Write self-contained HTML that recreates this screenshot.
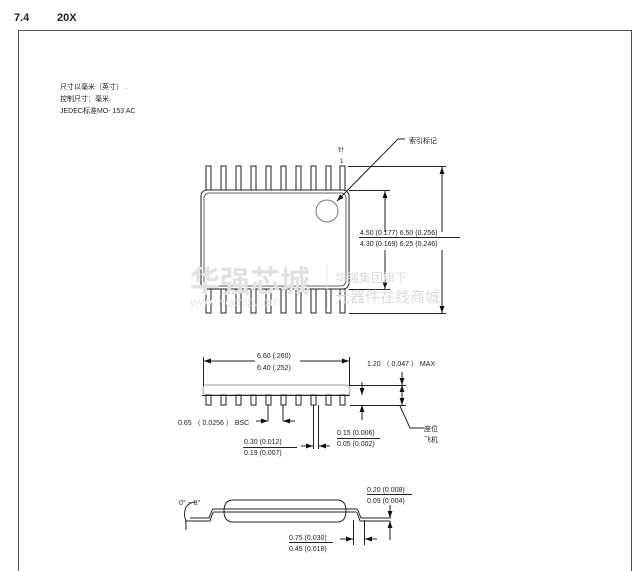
<!DOCTYPE html>
<html><head><meta charset="utf-8"><style>
html,body{margin:0;padding:0;background:#fff;width:636px;height:571px;overflow:hidden}
svg{display:block}
text{font-family:"Liberation Sans","Noto Sans CJK SC",sans-serif;fill:#222}
</style></head><body>
<svg width="636" height="571" viewBox="0 0 636 571" xmlns="http://www.w3.org/2000/svg">
<defs>
<marker id="a" viewBox="0 0 10 10" refX="10" refY="5" markerWidth="7" markerHeight="7" orient="auto-start-reverse"><path d="M0,1.5 L10,5 L0,8.5z" fill="#111"/></marker>
</defs>
<text x="14" y="21" font-size="11" font-weight="bold">7.4</text>
<text x="57" y="21" font-size="11" font-weight="bold">20X</text>
<path d="M18.5,571 V30.5 H631.5 V571" fill="none" stroke="#555" stroke-width="1"/>
<text x="60" y="89" font-size="7">尺寸以毫米（英寸） .</text>
<text x="60" y="101" font-size="7">控制尺寸：毫米.</text>
<text x="60" y="113" font-size="7">JEDEC标准MO- 153 AC</text>
<g stroke="#222" stroke-width="1" fill="none">
<g fill="#fff">
<rect x="206" y="166" width="5" height="24"/><rect x="221" y="166" width="5" height="24"/><rect x="236" y="166" width="5" height="24"/><rect x="251" y="166" width="5" height="24"/><rect x="266" y="166" width="5" height="24"/><rect x="281" y="166" width="5" height="24"/><rect x="296" y="166" width="5" height="24"/><rect x="311" y="166" width="5" height="24"/><rect x="326" y="166" width="5" height="24"/><rect x="340" y="166" width="5" height="24"/>
<rect x="206" y="289" width="5" height="24"/><rect x="221" y="289" width="5" height="24"/><rect x="236" y="289" width="5" height="24"/><rect x="251" y="289" width="5" height="24"/><rect x="266" y="289" width="5" height="24"/><rect x="281" y="289" width="5" height="24"/><rect x="296" y="289" width="5" height="24"/><rect x="311" y="289" width="5" height="24"/><rect x="326" y="289" width="5" height="24"/><rect x="340" y="289" width="5" height="24"/>
</g>
<rect x="201" y="190" width="148" height="99" rx="6" fill="#fff"/>
<rect x="204" y="193" width="142" height="93" rx="5" stroke="#666"/>
<circle cx="327" cy="211" r="11" stroke="#777"/>
<line x1="348" y1="166.5" x2="446" y2="166.5"/>
<line x1="349" y1="190.5" x2="390" y2="190.5"/>
<line x1="349" y1="289.5" x2="390" y2="289.5"/>
<line x1="349" y1="313.5" x2="446" y2="313.5"/>
<line x1="385" y1="191" x2="385" y2="232" marker-start="url(#a)"/>
<line x1="385" y1="250" x2="385" y2="289" marker-end="url(#a)"/>
<line x1="442" y1="167" x2="442" y2="232" marker-start="url(#a)"/>
<line x1="442" y1="250" x2="442" y2="313" marker-end="url(#a)"/>
<line x1="359" y1="237.5" x2="460" y2="237.5"/>
<path d="M405,139 H398 L337,201" marker-end="url(#a)"/>
<line x1="203.5" y1="357" x2="203.5" y2="386"/>
<line x1="349.5" y1="357" x2="349.5" y2="386"/>
<line x1="204" y1="361" x2="255" y2="361" marker-start="url(#a)"/>
<line x1="300" y1="361" x2="349" y2="361" marker-end="url(#a)"/>
<path d="M206,385 H346 Q350,385 350,390 Q350,395 346,395 H206 Q203,395 203,390 Q203,385 206,385z" stroke="#999"/>
<g fill="#fff">
<rect x="206" y="395" width="5" height="10"/><rect x="221" y="395" width="5" height="10"/><rect x="236" y="395" width="5" height="10"/><rect x="251" y="395" width="5" height="10"/><rect x="266" y="395" width="5" height="10"/><rect x="281" y="395" width="5" height="10"/><rect x="296" y="395" width="5" height="10"/><rect x="311" y="395" width="5" height="10"/><rect x="326" y="395" width="5" height="10"/><rect x="340" y="395" width="5" height="10"/>
</g>
<line x1="202" y1="395.5" x2="350" y2="395.5"/>
<line x1="350" y1="385.5" x2="406" y2="385.5"/>
<line x1="350" y1="405.5" x2="406" y2="405.5"/>
<line x1="402" y1="372" x2="402" y2="385" marker-end="url(#a)"/>
<line x1="402" y1="395" x2="402" y2="385" marker-end="url(#a)"/>
<line x1="402" y1="395" x2="402" y2="405" marker-end="url(#a)"/>
<line x1="362" y1="382" x2="362" y2="395" marker-end="url(#a)"/>
<line x1="362" y1="420" x2="362" y2="405" marker-end="url(#a)"/>
<path d="M400,406 L410,428 H424" />
<line x1="268" y1="405" x2="268" y2="421"/>
<line x1="283" y1="405" x2="283" y2="421"/>
<line x1="256" y1="421" x2="268" y2="421" marker-end="url(#a)"/>
<line x1="295" y1="421" x2="283" y2="421" marker-end="url(#a)"/>
<line x1="313.5" y1="405" x2="313.5" y2="449"/>
<line x1="318.5" y1="405" x2="318.5" y2="449"/>
<line x1="301" y1="446" x2="313" y2="446" marker-end="url(#a)"/>
<line x1="330" y1="446" x2="319" y2="446" marker-end="url(#a)"/>
<line x1="243" y1="447.5" x2="297" y2="447.5"/>
<line x1="337" y1="438.5" x2="380" y2="438.5"/>
<path d="M233,500 H337 Q346,500 346,511 Q346,522 337,522 H233 Q224,522 224,511 Q224,500 233,500z" fill="#fff"/>
<line x1="214" y1="509" x2="356" y2="509"/>
<line x1="214" y1="512" x2="356" y2="512"/>
<path d="M214,509 Q212,509 211,513 L209,518 H190"/>
<path d="M214,512 Q213,512 212,515 L210,521 H185"/>
<path d="M356,509 Q358,509 359,513 L361,518 H391"/>
<path d="M356,512 Q357,512 358,515 L360,521 H390"/>
<line x1="353.5" y1="520" x2="353.5" y2="545"/>
<line x1="364.5" y1="520" x2="364.5" y2="545"/>
<line x1="340" y1="539" x2="353" y2="539" marker-end="url(#a)"/>
<line x1="377" y1="539" x2="365" y2="539" marker-end="url(#a)"/>
<line x1="390" y1="505" x2="390" y2="518" marker-end="url(#a)"/>
<line x1="390" y1="540" x2="390" y2="521" marker-end="url(#a)"/>
<path d="M186,507 Q183,514 186,521" />
<path d="M186,507 Q190,502 195,502" />
<line x1="186" y1="530" x2="186" y2="521"/>
<line x1="367" y1="494.5" x2="412" y2="494.5"/>
<line x1="289" y1="542.5" x2="333" y2="542.5"/>
</g>
<!-- watermark on top -->
<text x="190" y="292" font-size="30" font-weight="bold" style="fill:#e2e2e2">华强芯城</text>
<text x="190" y="306" font-size="12" style="fill:#e6e6e6">www.hqchip.com</text>
<line x1="327" y1="265" x2="327" y2="310" stroke="#e6e6e6"/>
<text x="335" y="282" font-size="12" style="fill:#dcdcdc">华强集团旗下</text>
<text x="335" y="302" font-size="15" style="fill:#dcdcdc">元器件在线商城</text>
<text x="338" y="152" font-size="6">针</text>
<text x="340" y="163" font-size="6">1</text>
<text x="409" y="143" font-size="7">索引标记</text>
<text x="360" y="235" font-size="7">4.50 (0.177) 6.50 (0.256)</text>
<text x="360" y="246" font-size="7">4.30 (0.169) 6.25 (0.246)</text>
<text x="257" y="358" font-size="7">6.60 (.260)</text>
<text x="257" y="370" font-size="7">6.40 (.252)</text>
<text x="367" y="366" font-size="7">1.20 （ 0.047 ） MAX</text>
<text x="178" y="425" font-size="7">0.65 （ 0.0256 ） BSC</text>
<text x="244" y="444" font-size="7">0.30 (0.012)</text>
<text x="244" y="455" font-size="7">0.19 (0.007)</text>
<text x="337" y="435" font-size="7">0.15 (0.006)</text>
<text x="337" y="446" font-size="7">0.05 (0.002)</text>
<text x="424" y="431" font-size="7">座位</text>
<text x="424" y="442" font-size="7">飞机</text>
<text x="179" y="505" font-size="7">0° ~ 8°</text>
<text x="367" y="492" font-size="7">0.20 (0.008)</text>
<text x="367" y="503" font-size="7">0.09 (0.004)</text>
<text x="289" y="540" font-size="7">0.75 (0.030)</text>
<text x="289" y="551" font-size="7">0.45 (0.018)</text>
</svg>
</body></html>
